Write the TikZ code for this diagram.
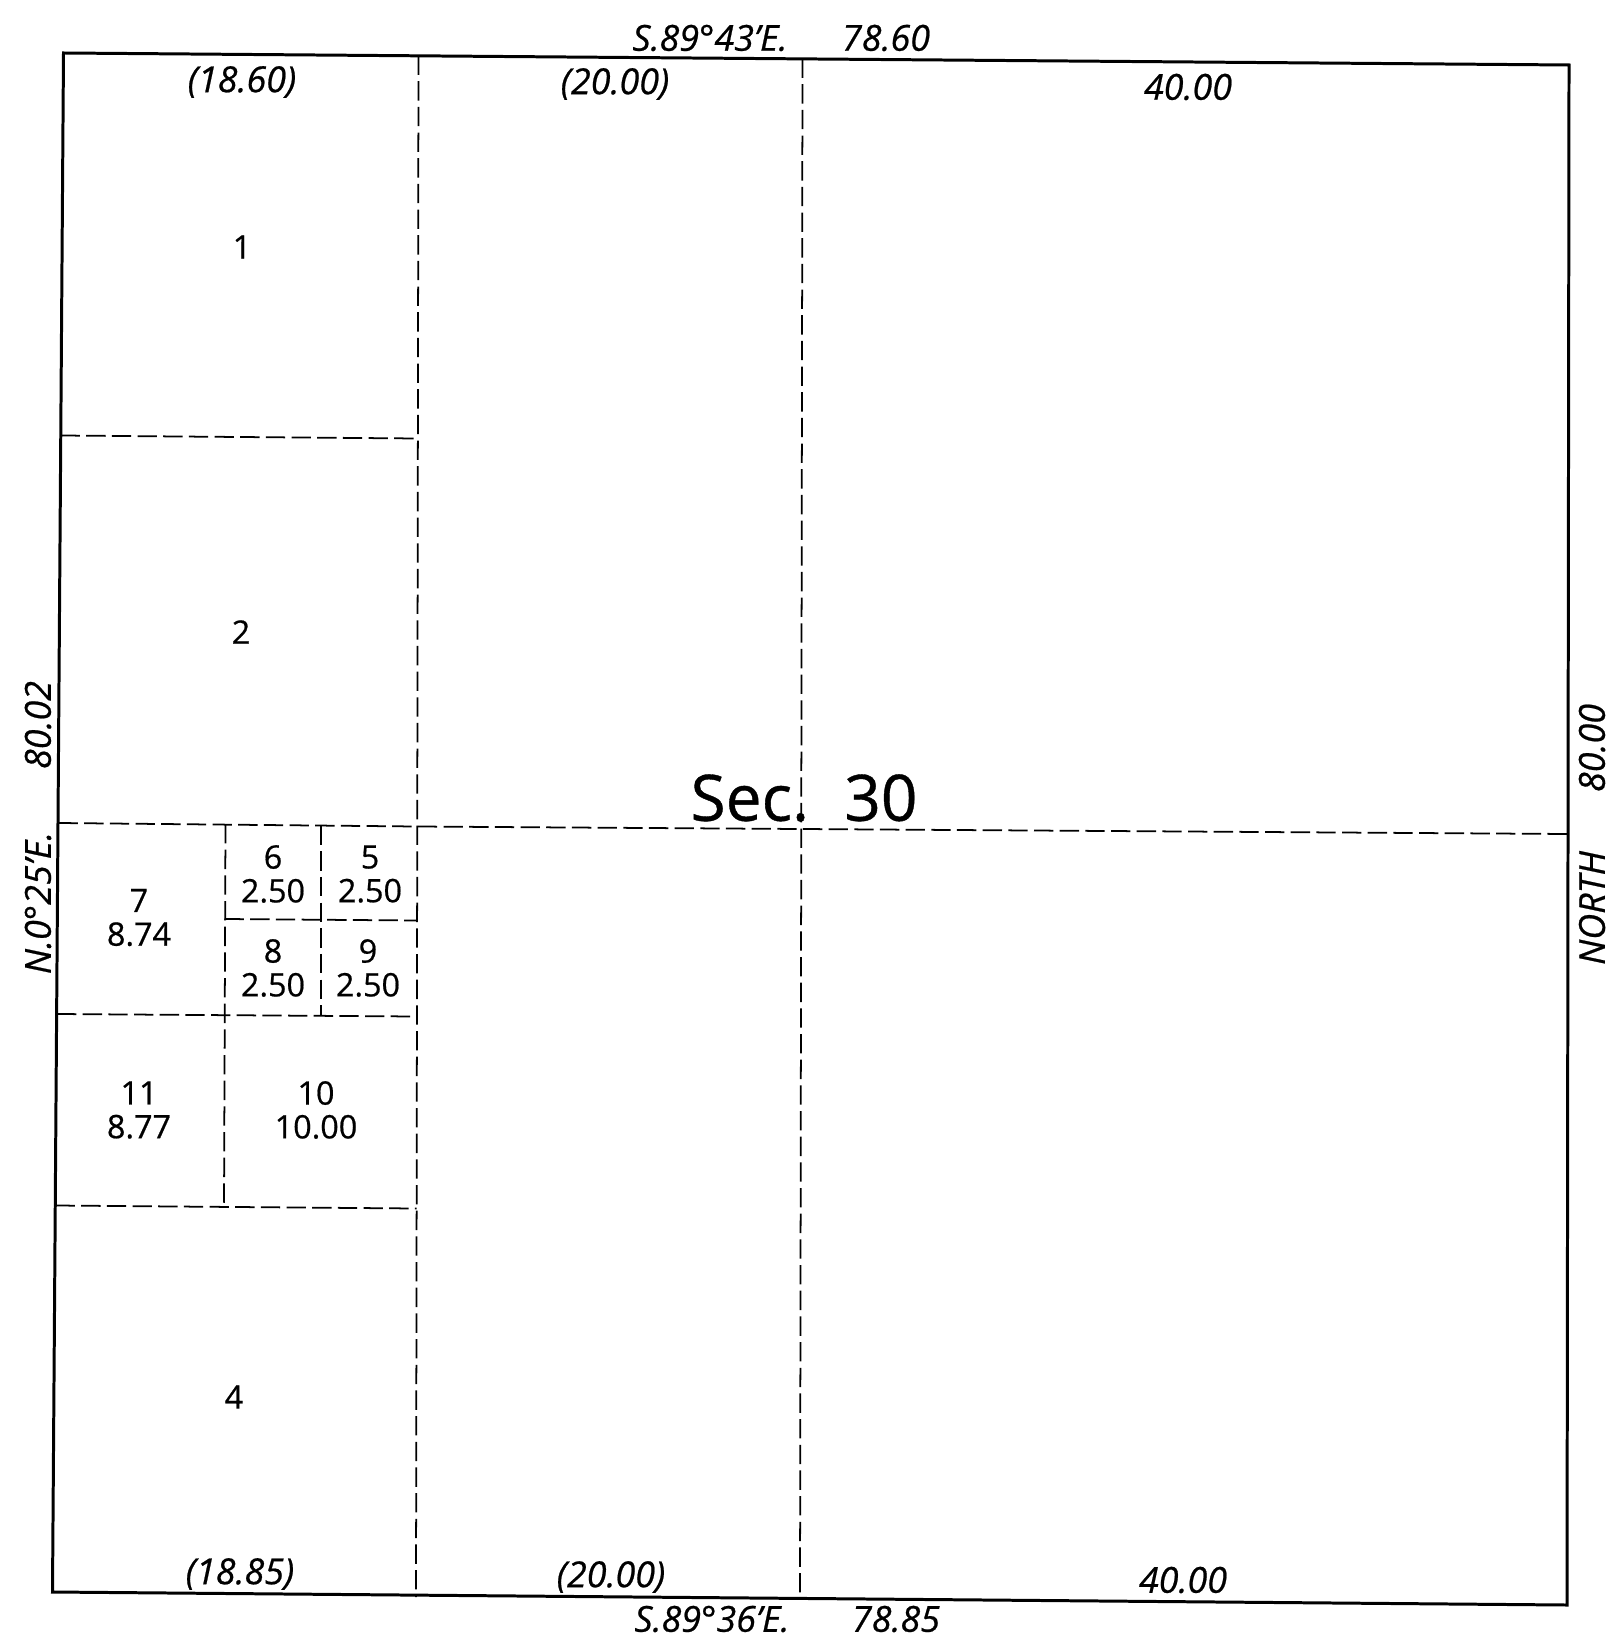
\documentclass[tikz,border=0pt]{standalone}
\usepackage{fontspec}
\setmainfont{Open Sans}[RawFeature={embolden=0.6}]
\usetikzlibrary{positioning}
\tikzset{
  boundary/.style={line width=0.85pt},
  lotline/.style={line width=0.5pt, dash pattern=on 5.5pt off 1.8pt},
  lot/.style={inner sep=0pt, align=center, font=\fontsize{9.2}{9.6}\selectfont},
  call/.style={inner sep=0pt, font=\fontsize{10.2}{12}\selectfont\itshape},
}
\begin{document}
\begin{tikzpicture}[x=0.01cm, y=-0.01cm]
\useasboundingbox (0,0) rectangle (1610,1637);
% section corners
\coordinate (nw) at (63.5,53);
\coordinate (ne) at (1569,65);
\coordinate (se) at (1567,1605);
\coordinate (sw) at (52.5,1592);
% ends on the boundary
\coordinate (n1) at (418.5,55.5);
\coordinate (n2) at (802.5,58.5);
\coordinate (s1) at (416,1597);
\coordinate (s2) at (800,1599);
\coordinate (w1) at (60.5,435.5);
\coordinate (w2) at (58.5,823);
\coordinate (w3) at (57,1014);
\coordinate (w4) at (55.5,1205.5);
\coordinate (e2) at (1569,834);
% inner corners
\coordinate (a1) at (417.5,438.5);
\coordinate (a2) at (416.5,826.5);
\coordinate (a3) at (416.5,920.5);
\coordinate (a4) at (416.5,1016.5);
\coordinate (a5) at (416.5,1208.5);
\coordinate (b1) at (225.5,824);
\coordinate (b2) at (224.5,919);
\coordinate (b3) at (224,1206.5);
\coordinate (c1) at (320.7,825.5);
\coordinate (c2) at (320.7,1016);
% boundary
\draw[boundary] (nw) -- (ne) -- (se) -- (sw) -- cycle;
% vertical lines
\draw[lotline] (n1) -- (s1);
\draw[lotline] (n2) -- (s2);
\draw[lotline] (b1) -- (b3);
\draw[lotline] (c1) -- (c2);
% horizontal lines
\draw[lotline] (w1) -- (a1);
\draw[lotline] (w2) -- (a2) -- (e2);
\draw[lotline] (b2) -- (a3);
\draw[lotline] (w3) -- (a4);
\draw[lotline] (w4) -- (a5);
% lots
\node[lot] (lot1) at (242,247) {1};
\node[lot] (lot2) at (241,632) {2};
\node[lot] (lot4) at (234,1397) {4};
\node[lot] (lot5) at (370,874) {5\\2.50};
\node[lot] (lot6) at (273,874) {6\\2.50};
\node[lot] (lot7) at (139,917.5) {7\\8.74};
\node[lot] (lot8) at (273,968) {8\\2.50};
\node[lot] (lot9) at (368,968) {9\\2.50};
\node[lot] (lot10) at (316,1110) {10\\10.00};
\node[lot] (lot11) at (139,1110) {11\\8.77};
\node[inner sep=0pt, font=\fontsize{18.2}{20}\selectfont] (sec) at (804,798) {Sec.\hspace{0.55em}30};
% top calls
\node[call] (tbear) at (710,38) {S.89°43'E.};
\node[call] (tdist) at (886,38) {78.60};
\node[call] (t1) at (242,82) {(18.60)};
\node[call] (t2) at (615,84) {(20.00)};
\node[call] (t3) at (1188,87) {40.00};
% bottom calls
\node[call] (bbear) at (712,1619) {S.89°36'E.};
\node[call] (bdist) at (896,1619) {78.85};
\node[call] (b1t) at (240,1574) {(18.85)};
\node[call] (b2t) at (611,1577) {(20.00)};
\node[call] (b3t) at (1183,1580) {40.00};
% side calls
\node[call, rotate=90] (ldist) at (38,725) {80.02};
\node[call, rotate=90] (lbear) at (38,903) {N.0°25'E.};
\node[call, rotate=90] (rdist) at (1592,748) {80.00};
\node[call, rotate=90] (rbear) at (1592,908) {NORTH};
\end{tikzpicture}
\end{document}
